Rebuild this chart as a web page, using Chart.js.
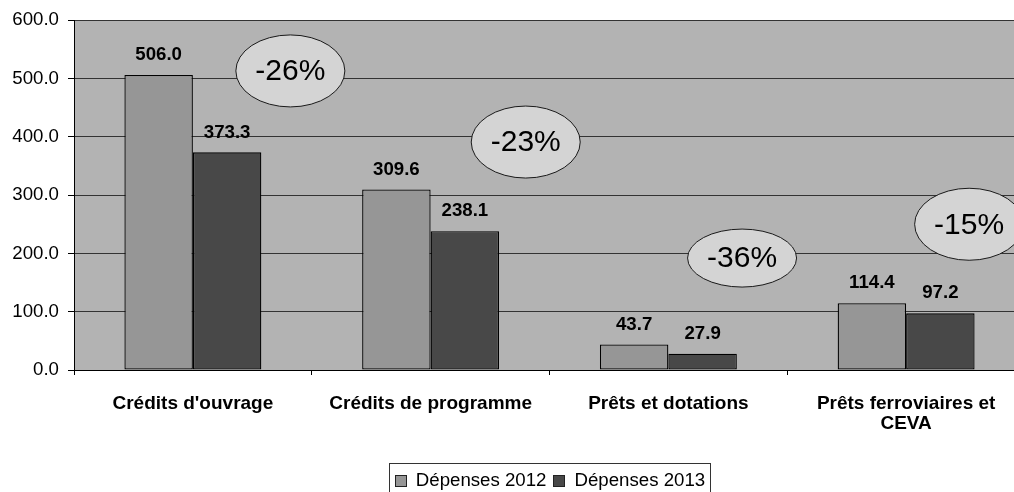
<!DOCTYPE html>
<html>
<head>
<meta charset="utf-8">
<script src="https://cdn.jsdelivr.net/npm/chart.js@4"></script>
<style>
  html, body { margin: 0; padding: 0; background: #fff; overflow: hidden; }
  #wrap { width: 1026px; height: 492px; position: relative; }
</style>
</head>
<body>
<div id="wrap"><canvas id="budgetChart"></canvas></div>
<script>
const categories = ["Crédits d'ouvrage", "Crédits de programme", "Prêts et dotations", ["Prêts ferroviaires et", "CEVA"]];
const depenses2012 = [506.0, 309.6, 43.7, 114.4];
const depenses2013 = [373.3, 238.1, 27.9, 97.2];
const variations = ["-26%", "-23%", "-36%", "-15%"];
const seriesNames = ["Dépenses 2012", "Dépenses 2013"];

// where each variation bubble sits: shift from category centre (in category widths) and height in axis units
const bubbleShift = [0.41, 0.40, 0.31, 0.265];
const bubbleLevel = [513, 391, 192, 250];
const bubbleHalfHeight = [36, 36, 29, 36];

const FONT = "'Liberation Sans', Arial, sans-serif";
Chart.defaults.font.family = FONT;
Chart.defaults.color = "#000";

const colors = ["#969696", "#484848"];

const decorations = {
  id: "decorations",
  beforeDraw(chart) {
    const { ctx, chartArea: a } = chart;
    ctx.save();
    ctx.fillStyle = "#fff";
    ctx.fillRect(0, 0, chart.width, chart.height);
    ctx.fillStyle = "#b3b3b3";
    ctx.fillRect(a.left, a.top, a.right - a.left, a.bottom - a.top);
    ctx.restore();
  },
  afterDatasetsDraw(chart) {
    const { ctx } = chart;
    ctx.save();
    // value labels
    ctx.font = "bold 18.67px " + FONT;
    ctx.fillStyle = "#000";
    ctx.textAlign = "center";
    ctx.textBaseline = "middle";
    chart.data.datasets.forEach((ds, i) => {
      chart.getDatasetMeta(i).data.forEach((bar, j) => {
        ctx.fillText(ds.data[j].toFixed(1), bar.x, bar.y - 20);
      });
    });

    // variation bubbles
    const xs = chart.scales.x, ys = chart.scales.y;
    const catW = (xs.right - xs.left) / categories.length;
    variations.forEach((txt, i) => {
      const cx = xs.getPixelForValue(i) + bubbleShift[i] * catW;
      const cy = ys.getPixelForValue(bubbleLevel[i]);
      ctx.beginPath();
      ctx.ellipse(cx, cy, 54.5, bubbleHalfHeight[i], 0, 0, Math.PI * 2);
      ctx.fillStyle = "#d4d4d4";
      ctx.fill();
      ctx.lineWidth = 1;
      ctx.strokeStyle = "#1a1a1a";
      ctx.stroke();
      ctx.fillStyle = "#000";
      ctx.font = "30px " + FONT;
      ctx.fillText(txt, cx, cy + 1);
    });

    // legend
    const a = chart.chartArea;
    ctx.font = "18.67px " + FONT;
    const widths = seriesNames.map(n => ctx.measureText(n).width);
    const total = 6 + 12 + 9 + widths[0] + 6 + 12 + 10 + widths[1] + 5;
    let x = (a.left + a.right) / 2 - total / 2;
    const top = 463;
    ctx.strokeStyle = "#333";
    ctx.strokeRect(Math.round(x) + 0.5, top + 0.5, Math.round(total), 40);
    let px = x + 6;
    seriesNames.forEach((n, i) => {
      ctx.fillStyle = colors[i];
      ctx.fillRect(Math.round(px) + 0.5, 475.5, 11, 11);
      ctx.strokeStyle = "#222";
      ctx.strokeRect(Math.round(px) + 0.5, 475.5, 11, 11);
      px += 12 + (i === 0 ? 9 : 10);
      ctx.fillStyle = "#000";
      ctx.textAlign = "left";
      ctx.fillText(n, px, 481);
      px += widths[i] + 6;
    });
    ctx.restore();
  }
};

const barStyle = {
  borderColor: "#000",
  borderWidth: 1.3,
  borderSkipped: false,
  barPercentage: 1,
  categoryPercentage: 0.576
};

new Chart(document.getElementById("budgetChart"), {
  type: "bar",
  data: {
    labels: categories,
    datasets: [
      Object.assign({ label: seriesNames[0], data: depenses2012, backgroundColor: colors[0] }, barStyle),
      Object.assign({ label: seriesNames[1], data: depenses2013, backgroundColor: colors[1] }, barStyle)
    ]
  },
  options: {
    responsive: true,
    maintainAspectRatio: false,
    animation: false,
    layout: { padding: { top: 20, right: 1, left: 0, bottom: 0 } },
    plugins: {
      legend: { display: false },
      tooltip: { enabled: false }
    },
    scales: {
      x: {
        ticks: {
          color: "#000",
          font: { size: 19, weight: "bold", lineHeight: 1.03 },
          padding: 19,
          maxRotation: 0,
          autoSkip: false
        },
        grid: { drawOnChartArea: false, tickLength: 5, color: "#000", offset: true },
        border: { color: "#000" },
        afterFit: s => { s.height = 122; }
      },
      y: {
        min: 0,
        max: 600,
        ticks: {
          stepSize: 100,
          color: "#000",
          font: { size: 18.67 },
          padding: 9,
          callback: v => v.toFixed(1)
        },
        grid: { color: "#333", tickLength: 6, tickColor: "#000" },
        border: { color: "#000" },
        afterFit: s => { s.width = 74; }
      }
    }
  },
  plugins: [decorations]
});
</script>
</body>
</html>
